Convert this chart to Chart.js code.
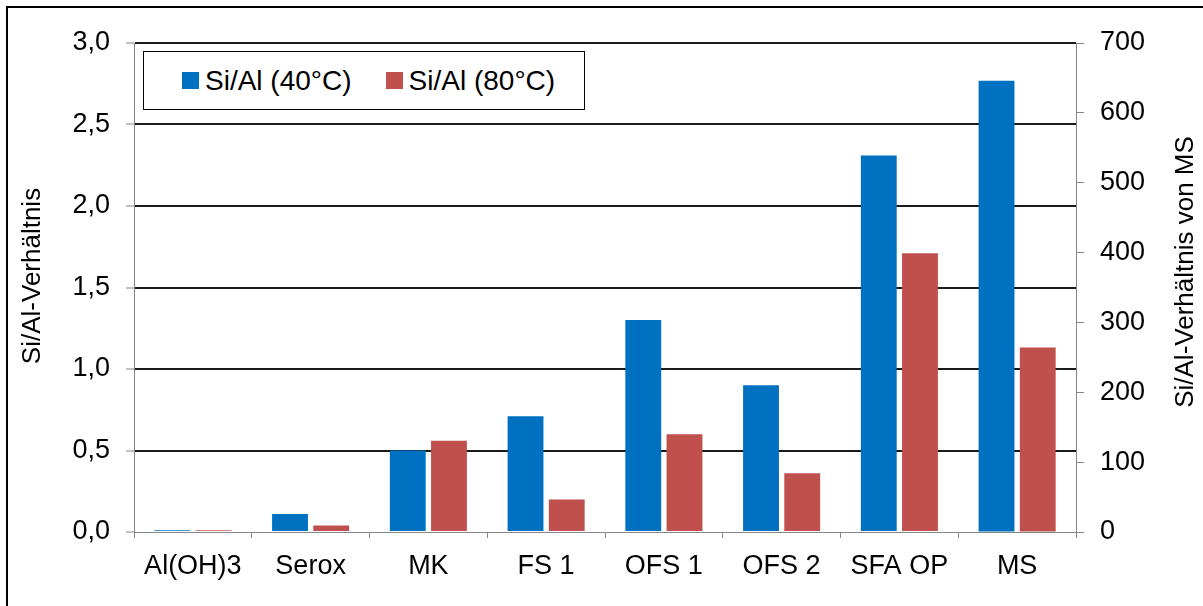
<!DOCTYPE html>
<html>
<head>
<meta charset="utf-8">
<script src="https://cdn.jsdelivr.net/npm/chart.js@4.4.1/dist/chart.umd.min.js"></script>
<style>
html,body{margin:0;padding:0;background:#fff;overflow:hidden;}
#wrap{position:relative;width:1203px;height:606px;overflow:hidden;}
#frame{position:absolute;left:6px;top:6px;width:1215px;height:630px;border:2px solid #000;box-sizing:border-box;}
#c{position:absolute;left:0;top:0;}
#legend{position:absolute;left:143px;top:51px;width:442px;height:59px;border:1px solid #000;box-sizing:border-box;background:#fff;
  display:flex;align-items:center;padding-left:38px;font:28px "Liberation Sans",Arial,sans-serif;color:#000;white-space:nowrap;}
#legend .sw{display:inline-block;width:17px;height:17px;margin-right:6px;}
#legend .it{display:flex;align-items:center;margin-right:34px;}
</style>
</head>
<body>
<div id="wrap">
  <div id="frame"></div>
  <canvas id="c" width="1203" height="606"></canvas>
  <div id="legend"></div>
</div>
<script>
// ---- data ----
const categories = ['Al(OH)3', 'Serox', 'MK', 'FS 1', 'OFS 1', 'OFS 2', 'SFA OP', 'MS'];
// left axis (Si/Al-Verhältnis), MS not on this axis
const si40 = [0.01, 0.11, 0.50, 0.71, 1.30, 0.90, 2.31, null];
const si80 = [0.01, 0.04, 0.56, 0.20, 0.60, 0.36, 1.71, null];
// right axis (Si/Al-Verhältnis von MS)
const ms40 = [null, null, null, null, null, null, null, 646];
const ms80 = [null, null, null, null, null, null, null, 264];
const seriesLabels = ['Si/Al (40°C)', 'Si/Al (80°C)'];
const leftTickLabels = ['0,0', '0,5', '1,0', '1,5', '2,0', '2,5', '3,0'];
const rightTickLabels = ['0', '100', '200', '300', '400', '500', '600', '700'];
const leftTitle = 'Si/Al-Verhältnis';
const rightTitle = 'Si/Al-Verhältnis von MS';

const BLUE = '#0070C0', RED = '#C0504D';
const AXIS = '#868686';
const FONT = '"Liberation Sans", Arial, sans-serif';

const barOpts = {categoryPercentage: 0.70, barPercentage: 0.87, skipNull: true, borderWidth: 0};

const axisTitles = {
  id: 'axisTitles',
  afterDraw(chart) {
    const ctx = chart.ctx;
    ctx.save();
    ctx.font = '26px ' + FONT;
    ctx.fillStyle = '#000';
    ctx.textAlign = 'center';
    ctx.textBaseline = 'middle';
    [[leftTitle, 33, 276], [rightTitle, 1186, 272]].forEach(([t, x, y]) => {
      ctx.save();
      ctx.translate(x, y);
      ctx.rotate(-Math.PI / 2);
      ctx.fillText(t, 0, 0);
      ctx.restore();
    });
    ctx.restore();
  }
};

const chart = new Chart(document.getElementById('c'), {
  type: 'bar',
  data: {
    labels: categories,
    datasets: [
      Object.assign({label: seriesLabels[0], data: si40, backgroundColor: BLUE, yAxisID: 'y'}, barOpts),
      Object.assign({label: seriesLabels[1], data: si80, backgroundColor: RED, yAxisID: 'y'}, barOpts),
      Object.assign({label: seriesLabels[0] + ' MS', data: ms40, backgroundColor: BLUE, yAxisID: 'y2'}, barOpts),
      Object.assign({label: seriesLabels[1] + ' MS', data: ms80, backgroundColor: RED, yAxisID: 'y2'}, barOpts)
    ]
  },
  options: {
    responsive: false,
    animation: false,
    devicePixelRatio: 1,
    layout: {padding: {top: 43, left: 0, right: 0, bottom: 0}},
    plugins: {legend: {display: false}, tooltip: {enabled: false}},
    scales: {
      x: {
        grid: {display: true, drawOnChartArea: false, offset: true, tickLength: 6, tickColor: AXIS, color: AXIS},
        border: {display: true, color: AXIS, width: 1},
        ticks: {font: {family: FONT, size: 27}, color: '#000', padding: 12, maxRotation: 0, autoSkip: false},
        afterFit(s) { s.height = 74; }
      },
      y: {
        position: 'left',
        min: 0, max: 3,
        ticks: {stepSize: 0.5, font: {family: FONT, size: 27}, color: '#000', padding: 16,
          callback: (v, i) => leftTickLabels[i]},
        grid: {color: c => (c.tick && c.tick.value === 0) ? 'rgba(0,0,0,0)' : '#1a1a1a', lineWidth: 2, tickLength: 8, tickColor: AXIS, tickWidth: 1},
        border: {display: true, color: AXIS, width: 1},
        afterFit(s) { s.width = 134; }
      },
      y2: {
        position: 'right',
        min: 0, max: 700,
        ticks: {stepSize: 100, font: {family: FONT, size: 27}, color: '#000', padding: 16,
          callback: (v, i) => rightTickLabels[i]},
        grid: {drawOnChartArea: false, tickLength: 8, tickColor: AXIS, color: AXIS},
        border: {display: true, color: AXIS, width: 1},
        afterFit(s) { s.width = 127; }
      }
    }
  },
  plugins: [axisTitles]
});

// HTML legend built from the first two datasets
const lg = document.getElementById('legend');
chart.data.datasets.slice(0, 2).forEach(ds => {
  const it = document.createElement('span');
  it.className = 'it';
  const sw = document.createElement('span');
  sw.className = 'sw';
  sw.style.background = ds.backgroundColor;
  it.appendChild(sw);
  it.appendChild(document.createTextNode(ds.label));
  lg.appendChild(it);
});
</script>
</body>
</html>
